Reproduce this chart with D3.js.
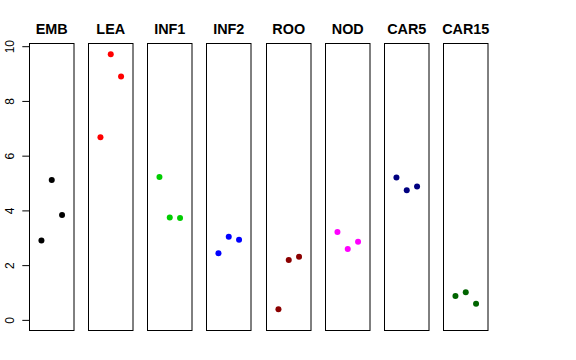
<!DOCTYPE html>
<html><head><meta charset="utf-8">
<script src="https://cdn.jsdelivr.net/npm/d3@7"></script>
<style>body{margin:0;background:#fff}svg{display:block}</style>
</head><body>
<svg id="c" width="576" height="360"></svg>
<script>
const categories = ["EMB","LEA","INF1","INF2","ROO","NOD","CAR5","CAR15"];
const colors = ["#000000","#FF0000","#00CD00","#0000FF","#8B0000","#FF00FF","#000080","#006400"];
const EMB = [2.90, 5.11, 3.83];
const LEA = [6.67, 9.71, 8.89];
const INF1 = [5.22, 3.74, 3.72];
const INF2 = [2.43, 3.04, 2.93];
const ROO = [0.39, 2.19, 2.31];
const NOD = [3.21, 2.59, 2.85];
const CAR5 = [5.20, 4.74, 4.87];
const CAR15 = [0.87, 1.01, 0.59];
const seriesValues = [EMB, LEA, INF1, INF2, ROO, NOD, CAR5, CAR15];
const yTicks = [0, 2, 4, 6, 8, 10];

(function(){
const svg = d3.select("#c");
const plotTop = 43.5, plotBottom = 330.5;
const yMin = 0, yMax = d3.max(seriesValues.flat());
const ext = 0.04 * (yMax - yMin);
const y = d3.scaleLinear().domain([yMin - ext, yMax + ext]).range([plotBottom, plotTop]);
const panelW = 44.5;
const px = d3.scaleLinear().domain([0, 1]).range([29, 29 + 59.14]);
const xIn = d3.scaleLinear().domain([-0.16, 4.16]).range([0, panelW]);

categories.forEach((cat, i) => {
  const x0 = Math.round(px(i)) + 0.5;
  const g = svg.append("g").attr("transform", `translate(${x0},0)`);
  g.append("rect").attr("x", 0).attr("y", plotTop).attr("width", panelW).attr("height", plotBottom - plotTop)
    .attr("fill", "none").attr("stroke", "#000").attr("stroke-width", 1);
  g.append("text").attr("x", panelW/2).attr("y", 33.5).attr("text-anchor", "middle")
    .attr("font-family", "Liberation Sans, Arial, sans-serif").attr("font-weight", "bold")
    .attr("font-size", "14.4px").text(cat);
  g.selectAll("circle").data(seriesValues[i]).enter().append("circle")
    .attr("cx", (d, j) => xIn(j + 1)).attr("cy", d => y(d)).attr("r", 3)
    .attr("fill", colors[i]);
});

const axis = d3.axisLeft(y).tickValues(yTicks).tickSize(7.2).tickPadding(0).tickFormat(d3.format("d"));
const ag = svg.append("g").attr("transform", `translate(${Math.round(px(0)) + 0.5},0)`).call(axis);
ag.select(".domain").attr("d", `M0,${y(0)}V${y(10)}`).attr("stroke", "#000");
ag.selectAll(".tick line").attr("stroke", "#000");
ag.selectAll(".tick text").attr("font-family", "Liberation Sans, Arial, sans-serif").attr("font-size", "12px")
  .attr("fill", "#000").attr("text-anchor", "middle").attr("dy", null)
  .attr("transform", "translate(-15.5,0) rotate(-90)").attr("x", 0).attr("y", 0);
})();
</script>
</body></html>
